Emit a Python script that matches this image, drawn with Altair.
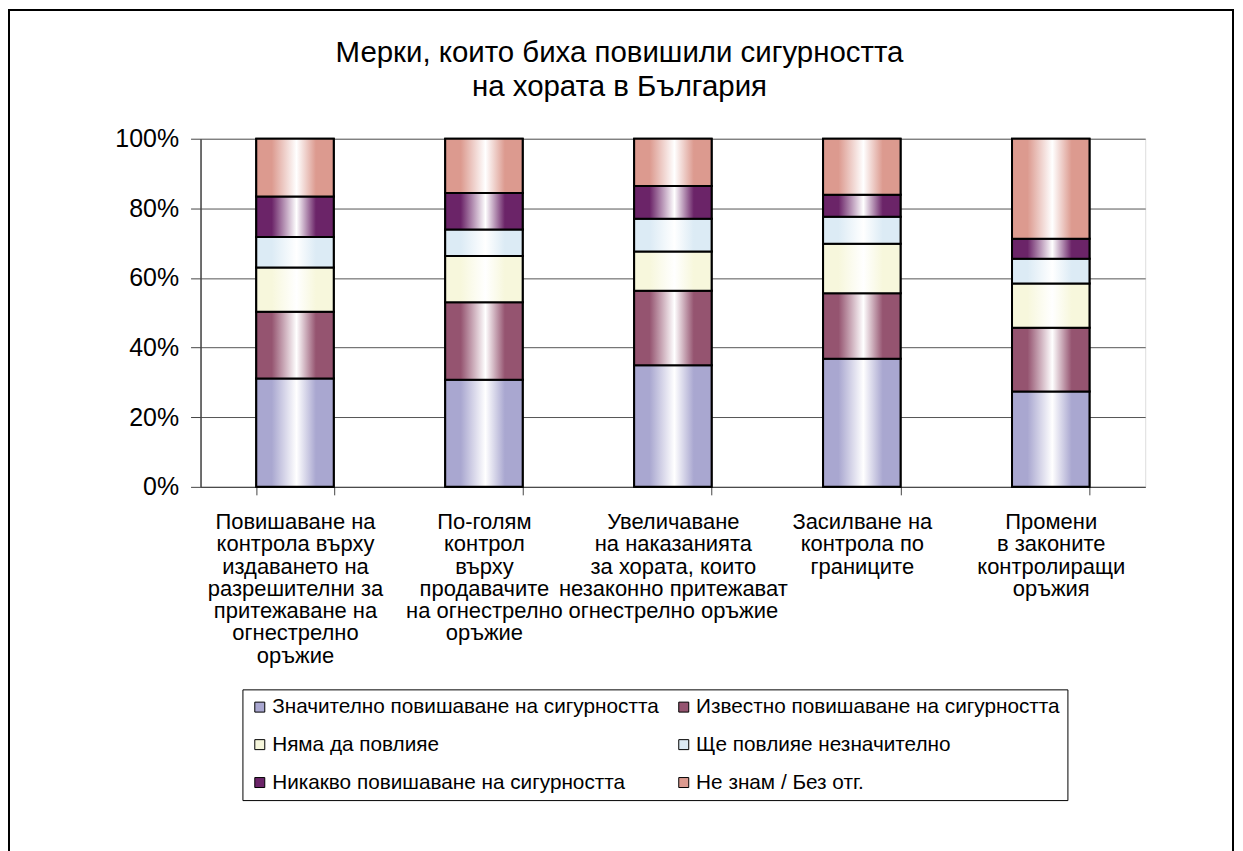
import altair as alt
import pandas as pd

categories = [
    "Повишаване на|контрола върху|издаването на|разрешителни за|притежаване на|огнестрелно|оръжие",
    "По-голям|контрол|върху|продавачите|на огнестрелно|оръжие",
    "Увеличаване|на наказанията|за хората, които|незаконно притежават|огнестрелно оръжие",
    "Засилване на|контрола по|границите",
    "Промени|в законите|контролиращи|оръжия",
]
series = [
    "Значително повишаване на сигурността",
    "Известно повишаване на сигурността",
    "Няма да повлияе",
    "Ще повлияе незначително",
    "Никакво повишаване на сигурността",
    "Не знам / Без отг.",
]
values = [
    [31.1, 30.8, 34.9, 36.8, 27.4],
    [19.2, 22.2, 21.4, 18.8, 18.3],
    [12.7, 13.3, 11.3, 14.2, 12.7],
    [8.8, 7.6, 9.4, 7.8, 7.1],
    [11.6, 10.5, 9.4, 6.3, 5.8],
    [16.6, 15.6, 13.6, 16.1, 28.7],
]
colors = ["#A9A7D0", "#955470", "#F7F7DC", "#DCEBF5", "#6B2468", "#DC9A8F"]
title_lines = ["Мерки, които биха повишили сигурността", "на хората в България"]
y_ticks = [0, 20, 40, 60, 80, 100]

rows = []
for si, s in enumerate(series):
    for ci, c in enumerate(categories):
        rows.append({"measure": c, "series": s, "order": si, "value": values[si][ci]})
df = pd.DataFrame(rows)

base = alt.Chart(df).transform_stack(
    stack="value", as_=["y0", "y1"], groupby=["measure"],
    sort=[alt.SortField("order", order="ascending")],
)

x_enc = alt.X(
    "measure:N", sort=categories, title=None,
    scale=alt.Scale(paddingInner=0.59, paddingOuter=0.295),
    axis=alt.Axis(
        labelExpr="split(datum.label, '|')", labelAngle=0, labelFontSize=22,
        labelLineHeight=22.3, labelFont="Liberation Sans", labelColor="black",
        labelLimit=400, tickBand="extent", tickSize=8, tickColor="#444",
        domainColor="#444", labelPadding=17, grid=False, labelBaseline="top",
    ),
)
y_enc = alt.Y(
    "y0:Q", title=None,
    scale=alt.Scale(domain=[0, 100], nice=False),
    axis=alt.Axis(
        values=y_ticks, labelExpr="datum.value + '%'", labelFontSize=25,
        labelFont="Liberation Sans", labelColor="black", tickSize=10,
        tickColor="#444", domainColor="#444", domainWidth=1.5, labelPadding=12,
        grid=True, gridColor="#555", gridWidth=1,
    ),
)

color_layer = base.mark_bar(stroke="black", strokeWidth=2).encode(
    x=x_enc, y=y_enc, y2="y1:Q",
    color=alt.Color(
        "series:N", sort=series,
        scale=alt.Scale(domain=series, range=colors),
        legend=alt.Legend(
            title=None, orient="none", legendX=42, legendY=552, columns=2,
            symbolType="square", symbolSize=100, symbolStrokeColor="black",
            symbolStrokeWidth=1, labelFontSize=20.8, labelFont="Liberation Sans",
            labelColor="black", labelLimit=600, columnPadding=14, rowPadding=16,
            padding=7, strokeColor="black", labelOffset=2, direction="horizontal",
        ),
    ),
)

grad_layers = []
for si, s in enumerate(series):
    grad = alt.Gradient(
        gradient="linear",
        stops=[
            alt.GradientStop(color=colors[si], offset=0),
            alt.GradientStop(color=colors[si], offset=0.2),
            alt.GradientStop(color="#ffffff", offset=0.52),
            alt.GradientStop(color=colors[si], offset=0.77),
            alt.GradientStop(color=colors[si], offset=1),
        ],
        x1=0, x2=1, y1=0, y2=0,
    )
    grad_layers.append(
        base.transform_filter(alt.datum.series == s)
        .mark_bar(fill=grad, stroke="black", strokeWidth=2)
        .encode(x=x_enc, y=y_enc, y2="y1:Q")
    )

border = alt.Chart(alt.Data(values=[{"a": 1}])).mark_rect(
    fillOpacity=0, stroke="black", strokeWidth=2
).encode(
    x=alt.value(-192), x2=alt.value(1035), y=alt.value(-129), y2=alt.value(780)
)

title = alt.Chart(alt.Data(values=[{"a": 1}])).mark_text(
    fontSize=29.5, font="Liberation Sans", color="black", align="center",
    baseline="middle", lineHeight=34,
).encode(
    x=alt.value(420), y=alt.value(-86), text=alt.value(title_lines)
)

chart = alt.layer(border, color_layer, *grad_layers, title).properties(
    width=947, height=349,
    autosize=alt.AutoSizeParams(type="none"),
    padding={"left": 193, "top": 130, "right": 90, "bottom": 364},
).configure_view(stroke=None).configure(background="white")

chart.save("out.html", embed_options={"renderer": "svg", "actions": False})
